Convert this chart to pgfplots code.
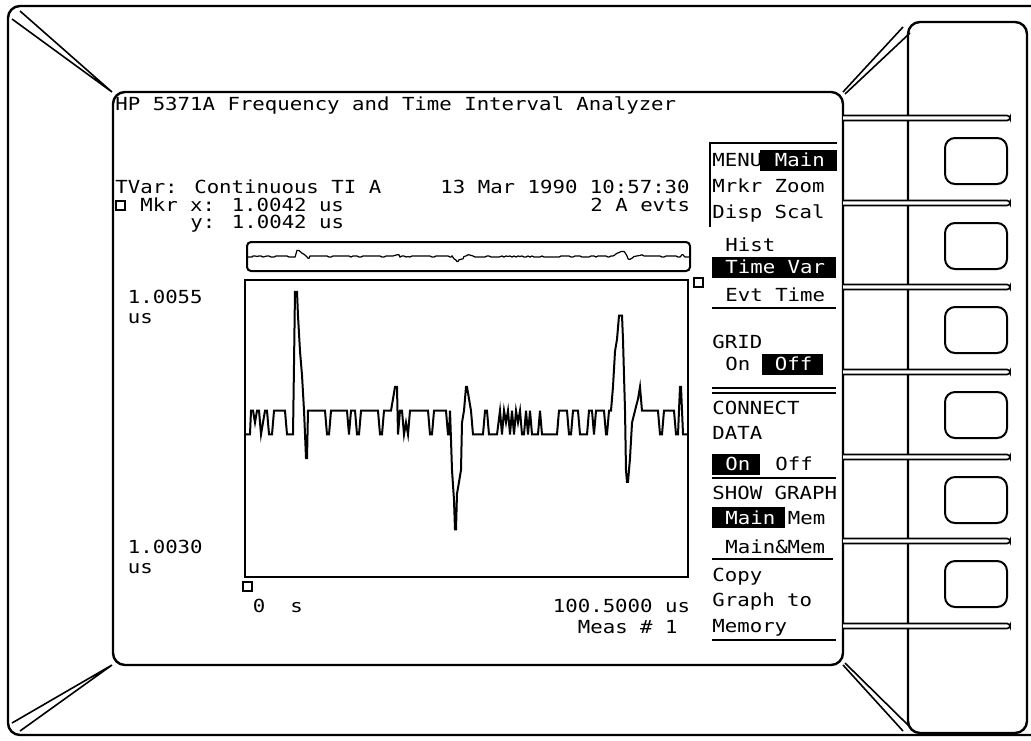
\documentclass[border=0pt]{standalone}
\usepackage{fontspec}
\usepackage{pgfplots}
\usepackage{pgfplotstable}
\pgfplotsset{compat=1.18}
\newfontfamily\hp[FakeStretch=1.15]{DejaVu Sans Mono}

\pgfplotstableread{
t v
0 1.0042
1.13 1.0042
1.36 1.0044
1.82 1.0044
2.27 1.0043
2.72 1.0044
3.18 1.0044
3.63 1.0042
4.08 1.0043
4.54 1.0044
4.99 1.0044
5.45 1.0042
6.13 1.0042
6.58 1.0044
9.07 1.0044
9.53 1.0042
10.89 1.0042
11.12 1.0048
11.34 1.0054
11.80 1.0054
12.02 1.0052
12.48 1.0049
12.93 1.0047
13.39 1.0044
13.84 1.0040
14.07 1.0040
14.29 1.0044
18.15 1.0044
18.60 1.0042
19.06 1.0042
19.51 1.0044
23.14 1.0044
23.59 1.0042
24.05 1.0044
24.96 1.0044
25.41 1.0042
25.86 1.0042
26.32 1.0044
30.17 1.0044
30.63 1.0042
31.08 1.0042
31.53 1.0044
33.12 1.0044
33.58 1.0045
34.03 1.0046
34.48 1.0046
34.71 1.0042
35.16 1.0044
35.62 1.0044
36.07 1.0042
36.52 1.0043
36.98 1.0042
37.43 1.0044
41.52 1.0044
41.97 1.0042
42.42 1.0042
42.88 1.0044
45.60 1.0044
46.05 1.0042
46.28 1.0042
46.51 1.0044
46.96 1.0039
47.41 1.00365
47.64 1.0034
47.87 1.0034
48.09 1.0037
48.55 1.0038
49.00 1.0039
49.23 1.0043
49.68 1.0044
50.14 1.0046
50.36 1.0046
50.82 1.0045
51.27 1.0044
51.72 1.0042
53.99 1.0042
54.45 1.0044
54.90 1.0044
55.35 1.0042
57.17 1.0042
57.85 1.0044
58.30 1.0042
58.76 1.0044
59.21 1.0043
59.66 1.0044
60.12 1.0042
60.57 1.0044
61.03 1.0042
61.48 1.0044
61.93 1.0043
62.39 1.0044
62.84 1.0042
63.29 1.0042
63.75 1.0044
64.20 1.0042
64.66 1.0044
65.11 1.0042
66.47 1.0042
66.92 1.0044
67.38 1.0042
70.78 1.0042
71.23 1.0044
73.05 1.0044
73.50 1.0042
73.96 1.0042
74.41 1.0044
75.54 1.0044
76.00 1.0042
77.59 1.0042
78.04 1.0044
78.72 1.0044
79.17 1.0042
79.63 1.0044
81.44 1.0044
81.90 1.0042
82.12 1.0042
82.58 1.0044
83.03 1.0044
83.48 1.0046
83.94 1.0049
84.39 1.0050
84.85 1.0052
85.53 1.0052
85.75 1.0050
86.21 1.0044
86.43 1.0039
86.66 1.0038
86.89 1.0038
87.34 1.0040
87.80 1.0043
88.48 1.0044
89.16 1.0045
89.61 1.0046
90.06 1.0044
93.69 1.0044
94.15 1.0042
94.60 1.0042
95.05 1.0044
97.32 1.0044
97.78 1.0042
98.23 1.0042
98.68 1.0046
98.91 1.0046
99.37 1.0042
100.5 1.0042
}\tvar

\tikzset{
  t/.style={anchor=base west, inner sep=0pt, font=\hp\fontsize{9}{10}\selectfont},
  w/.style={t, text=white},
}

\begin{document}
\begin{tikzpicture}
\begin{scope}[x=0.5pt,y=-0.5pt]
\useasboundingbox (0,0) rectangle (1031,740);
% outer frame
\draw[line width=1.2pt, rounded corners=6pt] (1031,6) -- (8,6) -- (8,735) -- (1031,735);
% screen
\draw[line width=1.2pt, rounded corners=6pt] (113,92) rectangle (843,665);
% wedges
\draw[line width=0.8pt] (112,92) -- (20,11) (112,92) -- (12,19);
\draw[line width=0.8pt] (112,665) -- (20,731) (112,665) -- (12,723);
\draw[line width=0.8pt] (843,92) -- (903,27) (845,94) -- (910,33);
\draw[line width=0.8pt] (843,665) -- (903,731) (845,663) -- (910,727);
% right panel
\draw[line width=1.2pt, rounded corners=6pt] (908,22) rectangle (1027,733);
\foreach \y in {118,203,287,372,457,541,626}{
  \draw[line width=0.8pt, rounded corners=1.5pt, fill=white] (843,\y-2.5) -- (1010,\y-2.5) -- (1010,\y+2.5) -- (843,\y+2.5);
}
\foreach \b in {138,223,307,392,477,561}{
  \draw[line width=1pt, rounded corners=5pt] (945,\b) rectangle (1007,\b+46);
}
% strip and markers
\draw[line width=1pt, rounded corners=2pt] (247,242) rectangle (690,271);
\draw[line width=0.8pt] (694,278) rectangle (703,287);
\draw[line width=0.8pt] (243,582) rectangle (252,591);
\draw[line width=0.8pt] (116,201) rectangle (125,210);
% header text
\node[t] at (115,110) {HP 5371A Frequency and Time Interval Analyzer};
\node[t] at (115,193) {TVar: Continuous TI A};
\node[t] at (440,193) {13 Mar 1990 10:57:30};
\node[t] at (140,211) {Mkr x: 1.0042 us};
\node[t] at (590,211) {2 A evts};
\node[t] at (190,228) {y: 1.0042 us};
% axis labels
\node[t] at (127.5,303) {1.0055};
\node[t] at (127.5,323) {us};
\node[t] at (127.5,553) {1.0030};
\node[t] at (127.5,573) {us};
\node[t] at (252.5,612) {0};
\node[t] at (290,612) {s};
\node[t] at (552.5,612) {100.5000 us};
\node[t] at (577.5,633) {Meas \# 1};
% menu
\draw[line width=1pt] (837,143) -- (710,143) -- (710,227);
\fill (760,150) rectangle (837,171);
\node[t] at (712,166) {MENU};
\node[w] at (774.5,166) {Main};
\node[t] at (712,192) {Mrkr Zoom};
\node[t] at (712,218) {Disp Scal};
\node[t] at (725,251) {Hist};
\fill (712,257) rectangle (836,278);
\node[w] at (725,273) {Time Var};
\node[t] at (725,301) {Evt Time};
\draw[line width=1pt] (712,308) -- (836,308);
\node[t] at (712,348) {GRID};
\node[t] at (725,370) {On};
\fill (762,354) rectangle (823,375);
\node[w] at (774.5,370) {Off};
\draw[line width=1pt] (712,388) -- (836,388) (712,393) -- (836,393);
\node[t] at (712,414) {CONNECT};
\node[t] at (712,439) {DATA};
\fill (712,454) rectangle (760,475);
\node[w] at (725,470) {On};
\node[t] at (775,470) {Off};
\draw[line width=1pt] (712,478) -- (836,478);
\node[t] at (712,499) {SHOW GRAPH};
\fill (712,507) rectangle (785,528);
\node[w] at (725,524) {Main};
\node[t] at (787.5,524) {Mem};
\node[t] at (725,553) {Main\&Mem};
\draw[line width=1pt] (712,559) -- (833,559);
\node[t] at (712,581) {Copy};
\node[t] at (712,606) {Graph to};
\node[t] at (712,632) {Memory};
\draw[line width=1pt] (712,640) -- (836,640);
\end{scope}

% main trace
\begin{axis}[at={(122.5pt,-288.5pt)}, anchor=south west, scale only axis,
  width=221.5pt, height=148.5pt, xmin=0, xmax=100.5, ymin=1.0030, ymax=1.0055,
  xtick=\empty, ytick=\empty, axis line style={line width=1.1pt}]
\addplot[black, line width=1pt, mark=none] table[x=t, y=v] {\tvar};
\end{axis}

% overview strip
\begin{axis}[at={(123.5pt,-135.5pt)}, anchor=south west, scale only axis,
  width=221.5pt, height=14.5pt, xmin=0, xmax=100.5, ymin=1.0017, ymax=1.0069,
  hide axis]
\addplot[black, line width=0.6pt, mark=none] table[x=t, y=v] {\tvar};
\end{axis}
\end{tikzpicture}
\end{document}
